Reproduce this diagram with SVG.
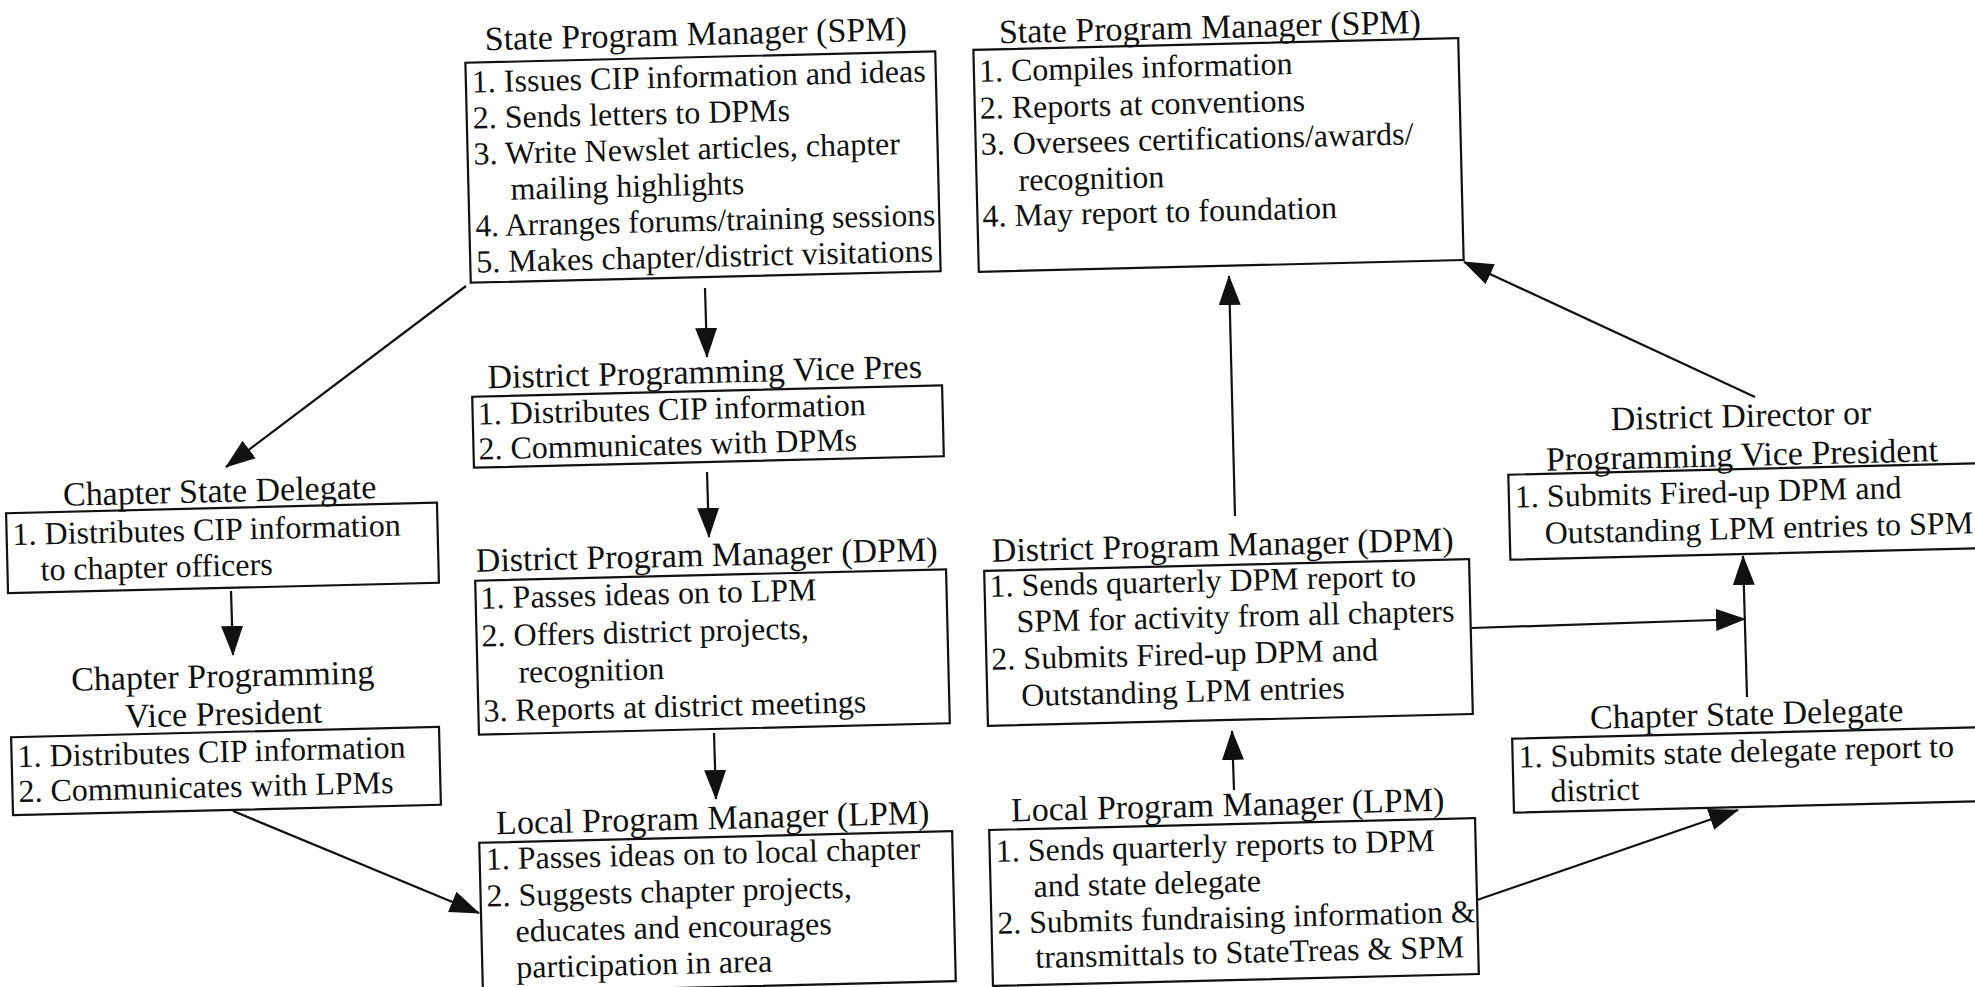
<svg xmlns="http://www.w3.org/2000/svg" width="1975" height="987" viewBox="0 0 1975 987">
<defs>
<style>
.bg{fill:#fff}
.box{fill:none;stroke:#111;stroke-width:2.2}
text{font-family:"Liberation Serif","Times New Roman",serif;fill:#111}
.b{font-size:32px}
.h{font-size:34px;text-anchor:middle}
.cn line{stroke:#111;stroke-width:2.2;marker-end:url(#ah)}
</style>
<marker id="ah" viewBox="0 0 30 22" refX="29" refY="11" markerWidth="30" markerHeight="22" markerUnits="userSpaceOnUse" orient="auto"><path d="M0,0 L30,11 L0,22 Z" fill="#111"/></marker>
</defs>
<rect class="bg" x="0" y="0" width="1975" height="987"/>

<g id="spm-issues" transform="rotate(-1.4 703 167)">
<text class="h" x="699" y="45">State Program Manager (SPM)</text>
<rect class="box" x="468" y="57" width="470" height="220"/>
<text class="b" x="474" y="87">1. Issues CIP information and ideas</text>
<text class="b" x="474" y="123">2. Sends letters to DPMs</text>
<text class="b" x="474" y="159">3. Write Newslet articles, chapter</text>
<text class="b" x="510" y="195">mailing highlights</text>
<text class="b" x="474" y="231" textLength="460" lengthAdjust="spacingAndGlyphs">4. Arranges forums/training sessions</text>
<text class="b" x="474" y="267">5. Makes chapter/district visitations</text>
</g>

<g id="spm-compiles" transform="rotate(-1.4 1218 155)">
<text class="h" x="1213" y="38">State Program Manager (SPM)</text>
<rect class="box" x="976" y="44" width="485" height="222"/>
<text class="b" x="981" y="76">1. Compiles information</text>
<text class="b" x="981" y="113">2. Reports at conventions</text>
<text class="b" x="981" y="149">3. Oversees certifications/awards/</text>
<text class="b" x="1018" y="186">recognition</text>
<text class="b" x="981" y="221">4. May report to foundation</text>
</g>

<g id="district-prog-vp" transform="rotate(-1.4 708 426)">
<text class="h" x="706" y="383">District Programming Vice Pres</text>
<rect class="box" x="473" y="391" width="470" height="71"/>
<text class="b" x="478" y="419">1. Distributes CIP information</text>
<text class="b" x="478" y="454">2. Communicates with DPMs</text>
</g>

<g id="chapter-state-delegate-left" transform="rotate(-1.4 222 548)">
<text class="h" x="221" y="502">Chapter State Delegate</text>
<rect class="box" x="7" y="508" width="431" height="80"/>
<text class="b" x="13" y="540">1. Distributes CIP information</text>
<text class="b" x="40" y="576">to chapter officers</text>
</g>

<g id="chapter-prog-vp" transform="rotate(-1.4 226 771)">
<text class="h" x="225" y="687">Chapter Programming</text>
<text class="h" x="225" y="725">Vice President</text>
<rect class="box" x="12" y="732" width="428" height="78"/>
<text class="b" x="18" y="762">1. Distributes CIP information</text>
<text class="b" x="18" y="797">2. Communicates with LPMs</text>
</g>

<g id="dpm-left" transform="rotate(-1.4 712 652)">
<text class="h" x="709" y="566">District Program Manager (DPM)</text>
<rect class="box" x="477" y="575" width="471" height="154"/>
<text class="b" x="482" y="603">1. Passes ideas on to LPM</text>
<text class="b" x="482" y="641">2. Offers district projects,</text>
<text class="b" x="518" y="678">recognition</text>
<text class="b" x="482" y="716">3. Reports at district meetings</text>
</g>

<g id="lpm-left" transform="rotate(-1.4 717 911)">
<text class="h" x="715" y="829">Local Program Manager (LPM)</text>
<rect class="box" x="481" y="837" width="473" height="150"/>
<text class="b" x="487" y="864">1. Passes ideas on to local chapter</text>
<text class="b" x="487" y="901">2. Suggests chapter projects,</text>
<text class="b" x="515" y="937">educates and encourages</text>
<text class="b" x="515" y="973">participation in area</text>
</g>

<g id="dpm-right" transform="rotate(-1.4 1228 642)">
<text class="h" x="1225" y="556">District Program Manager (DPM)</text>
<rect class="box" x="986" y="565" width="485" height="155"/>
<text class="b" x="991" y="591">1. Sends quarterly DPM report to</text>
<text class="b" x="1017" y="627">SPM for activity from all chapters</text>
<text class="b" x="991" y="664">2. Submits Fired-up DPM and</text>
<text class="b" x="1020" y="701">Outstanding LPM entries</text>
</g>

<g id="lpm-right" transform="rotate(-1.4 1234 902)">
<text class="h" x="1230" y="816">Local Program Manager (LPM)</text>
<rect class="box" x="991" y="824" width="486" height="156"/>
<text class="b" x="997" y="856">1. Sends quarterly reports to DPM</text>
<text class="b" x="1034" y="892">and state delegate</text>
<text class="b" x="997" y="928" textLength="478" lengthAdjust="spacingAndGlyphs">2. Submits fundraising information &amp;</text>
<text class="b" x="1034" y="963">transmittals to StateTreas &amp; SPM</text>
</g>

<g id="district-director" transform="rotate(-1.4 1742 500)">
<text class="h" x="1743" y="427">District Director or</text>
<text class="h" x="1743" y="466">Programming Vice President</text>
<rect class="box" x="1509" y="469" width="540" height="85"/>
<text class="b" x="1515" y="502">1. Submits Fired-up DPM and</text>
<text class="b" x="1544" y="539">Outstanding LPM entries to SPM</text>
</g>

<g id="chapter-state-delegate-right" transform="rotate(-1.4 1745 770)">
<text class="h" x="1748" y="725">Chapter State Delegate</text>
<rect class="box" x="1513" y="733" width="540" height="74"/>
<text class="b" x="1519" y="762">1. Submits state delegate report to</text>
<text class="b" x="1550" y="797">district</text>
</g>

<g id="connectors" class="cn">
<line x1="466" y1="286" x2="226" y2="467"/>
<line x1="705" y1="288" x2="707" y2="357"/>
<line x1="707" y1="472" x2="709" y2="537"/>
<line x1="714" y1="733" x2="716" y2="799"/>
<line x1="231" y1="591" x2="233" y2="655"/>
<line x1="233" y1="811" x2="479" y2="913"/>
<line x1="1234" y1="790" x2="1232" y2="731"/>
<line x1="1235" y1="516" x2="1229" y2="276"/>
<line x1="1755" y1="397" x2="1464" y2="262"/>
<line x1="1472" y1="628" x2="1745" y2="619"/>
<line x1="1747" y1="697" x2="1743" y2="556"/>
<line x1="1477" y1="900" x2="1738" y2="810"/>
</g>
</svg>
